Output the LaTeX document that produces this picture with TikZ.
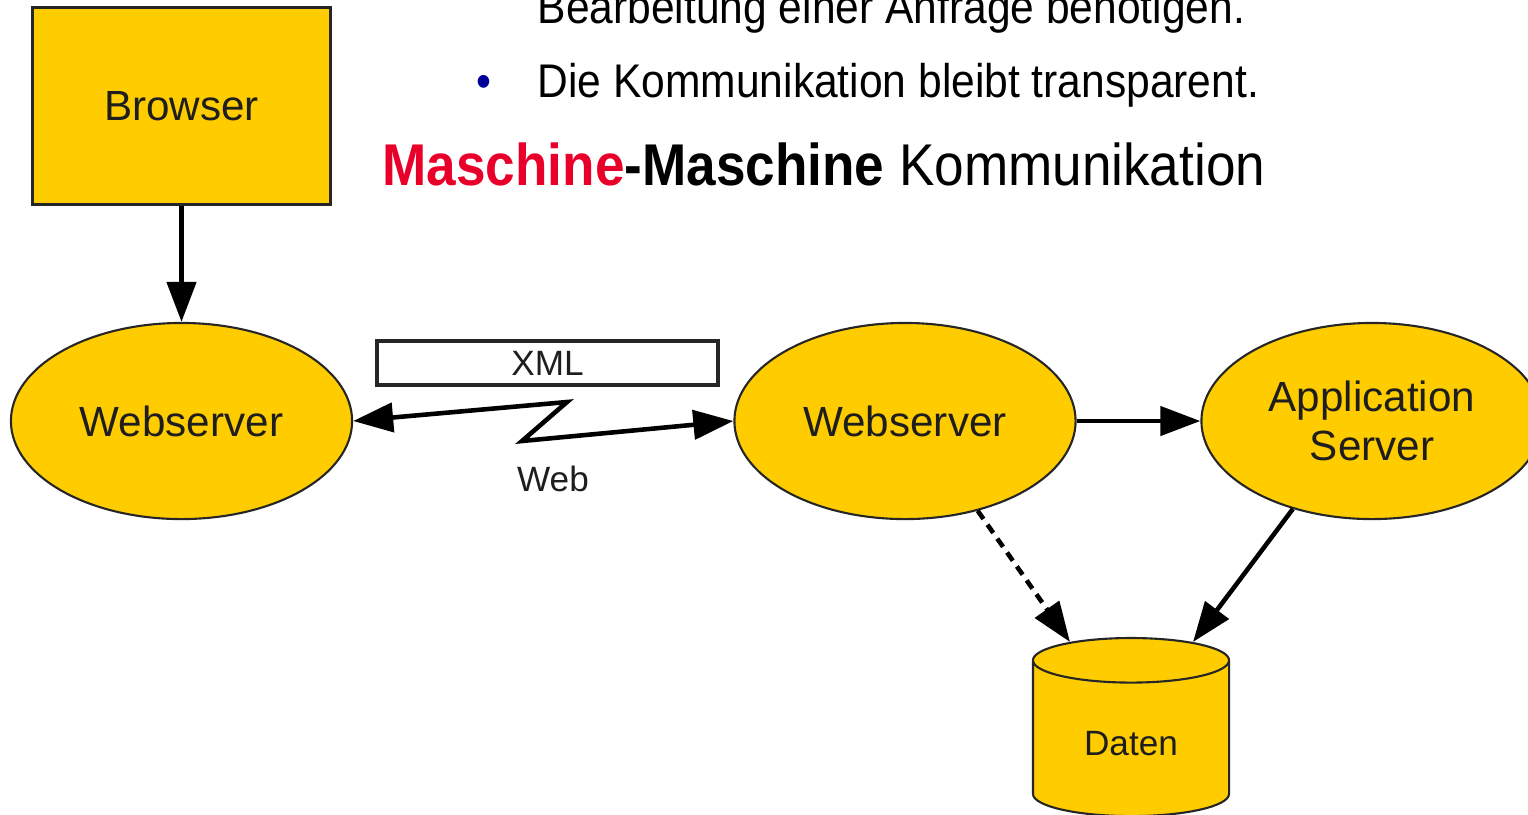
\documentclass[tikz,border=0pt]{standalone}
\usepackage{fontspec}
\setmainfont{Liberation Sans}
\usepackage{tikz}
\usetikzlibrary{shapes.geometric, arrows.meta}

\definecolor{boxyellow}{RGB}{255,204,0}
\definecolor{titlered}{RGB}{232,0,42}
\definecolor{bulletblue}{RGB}{0,0,153}
\definecolor{labelgray}{RGB}{30,30,30}

% slide text is set a little taller than wide
\newcommand{\tallbox}[1]{\scalebox{1}[1.11]{#1}}

\begin{document}
\begin{tikzpicture}[
            x=0.01cm, y=-0.01cm, % one unit per pixel, y pointing down
            every node/.style={font=\fontsize{12}{14}\selectfont, text=labelgray},
            server/.style={ellipse, draw=black!85, line width=0.6pt, fill=boxyellow,
                minimum width=3.41cm, minimum height=1.96cm, align=center, inner sep=1pt}, % yellow ellipses
            link/.style={line width=1.3pt, -{Triangle[length=0.4cm, width=0.29cm]}}, % thick arrows
            twoway/.style={line width=1.3pt, {Triangle[length=0.4cm, width=0.29cm]}-{Triangle[length=0.4cm, width=0.29cm]}},
            slide/.style={anchor=base west, inner sep=0pt, text=black, font=\fontsize{12.1}{14}\selectfont}
            ]
        \useasboundingbox (0,0) rectangle (1528,814);

        % text above the diagram
        \node[slide] (line1) at (537,23) {\tallbox{Bearbeitung einer Anfrage benötigen.}};
        \node[slide, anchor=base, text=bulletblue] (dot) at (484,97) {\tallbox{\textbullet}};
        \node[slide] (line2) at (537,97) {\tallbox{Die Kommunikation bleibt transparent.}};
        \node[slide, font=\fontsize{15.1}{18}\selectfont] (title) at (382,185)
            {\tallbox{\textbf{\textcolor{titlered}{Maschine}-Maschine} Kommunikation}};

        % boxes
        \node[draw=black!85, line width=0.9pt, fill=boxyellow, minimum width=2.98cm, minimum height=1.97cm] (browser) at (181.5,106) {Browser};
        \node[server] (ws1) at (181.5,421) {Webserver};
        \node[server] (ws2) at (905,421) {Webserver};
        \node[server] (app) at (1372,421) {Application\\Server};
        \node[cylinder, shape border rotate=90, aspect=0.38, draw=black!85, line width=0.6pt, fill=boxyellow,
            minimum width=1.96cm, minimum height=1.78cm, font=\fontsize{10}{12}\selectfont] (daten) at (1131,744) {Daten};

        % labels of the web link
        \node[draw=black!85, line width=1pt, fill=white, minimum width=3.41cm, minimum height=0.44cm, inner sep=0pt,
            font=\fontsize{10}{12}\selectfont] (xml) at (547.5,363) {XML};
        \node[font=\fontsize{10}{12}\selectfont] (web) at (553,479) {Web};
        \coordinate (zigtop) at (567,402);
        \coordinate (zigbot) at (522,441);

        % connections
        \draw[link] (browser.south) -- (ws1.north);
        \draw[twoway] (ws1.east) -- (zigtop) -- (zigbot) -- (ws2.west);
        \draw[link] (ws2.east) -- (app.west);
        \draw[link, dash pattern=on 0.1cm off 0.07cm] (ws2.-51) -- ([xshift=-0.61cm, yshift=-0.05cm]daten.north);
        \draw[link] (app.-132) -- ([xshift=0.62cm, yshift=-0.05cm]daten.north);

    \end{tikzpicture}
\end{document}
